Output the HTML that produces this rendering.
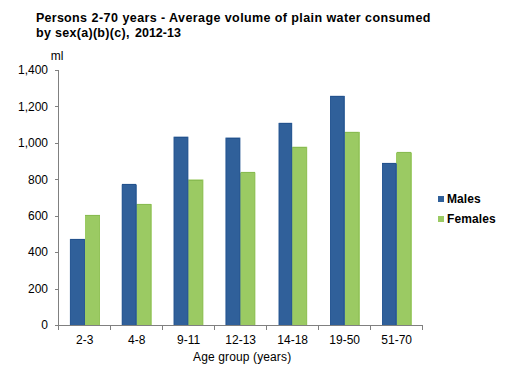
<!DOCTYPE html>
<html><head><meta charset="utf-8"><style>
html,body{margin:0;padding:0;background:#fff;width:508px;height:377px;overflow:hidden;position:relative}
body{font-family:"Liberation Sans",sans-serif;color:#000}
svg{position:absolute;left:0;top:0}
.t{position:absolute;font-weight:bold;font-size:12.5px;line-height:15px;white-space:pre}
.yl{position:absolute;right:460px;font-size:12px;line-height:14px;white-space:pre}
.xl{position:absolute;top:333px;width:60px;text-align:center;font-size:12px;line-height:14px;white-space:pre}
.ax{position:absolute;left:193px;top:350px;font-size:12px;line-height:14px;white-space:pre;letter-spacing:0.13px}
.ml{position:absolute;left:50.7px;top:49px;font-size:12px;line-height:14px}
.lg{position:absolute;left:447px;font-size:12px;font-weight:bold;line-height:14px;letter-spacing:0.1px}
</style></head><body>
<svg width="508" height="377"><rect x="85.00" y="215.20" width="15.00" height="109.80" fill="#9bca63"/><rect x="85.00" y="214.00" width="15.00" height="1.00" fill="#9bca63" fill-opacity="0.10"/><rect x="85.00" y="215.00" width="15.00" height="1.00" fill="#88bb51"/><rect x="99.00" y="216.00" width="1.00" height="109.00" fill="#93c35a"/><rect x="69.90" y="239.00" width="15.10" height="86.00" fill="#30609a"/><rect x="70.00" y="238.00" width="15.00" height="1.00" fill="#30609a" fill-opacity="0.10"/><rect x="70.00" y="239.00" width="15.00" height="1.00" fill="#23528d"/><rect x="70.00" y="239.00" width="1.00" height="86.00" fill="#2a5994"/><rect x="84.00" y="239.00" width="1.00" height="86.00" fill="#2a5994"/><rect x="136.00" y="204.10" width="15.80" height="120.90" fill="#9bca63"/><rect x="137.00" y="203.00" width="14.00" height="1.00" fill="#9bca63" fill-opacity="0.10"/><rect x="137.00" y="204.00" width="14.00" height="1.00" fill="#88bb51"/><rect x="150.00" y="205.00" width="1.00" height="120.00" fill="#93c35a"/><rect x="121.70" y="184.50" width="15.10" height="140.50" fill="#30609a"/><rect x="122.00" y="183.00" width="14.00" height="1.00" fill="#30609a" fill-opacity="0.10"/><rect x="122.00" y="184.00" width="14.00" height="1.00" fill="#23528d"/><rect x="122.00" y="185.00" width="1.00" height="140.00" fill="#2a5994"/><rect x="135.00" y="185.00" width="1.00" height="140.00" fill="#2a5994"/><rect x="188.00" y="179.50" width="15.40" height="145.50" fill="#9bca63"/><rect x="189.00" y="179.00" width="14.00" height="1.00" fill="#9bca63" fill-opacity="0.10"/><rect x="189.00" y="180.00" width="14.00" height="1.00" fill="#88bb51"/><rect x="202.00" y="180.00" width="1.00" height="145.00" fill="#93c35a"/><rect x="173.50" y="136.70" width="14.90" height="188.30" fill="#30609a"/><rect x="174.00" y="136.00" width="14.00" height="1.00" fill="#30609a" fill-opacity="0.10"/><rect x="174.00" y="137.00" width="14.00" height="1.00" fill="#23528d"/><rect x="174.00" y="137.00" width="1.00" height="188.00" fill="#2a5994"/><rect x="187.00" y="137.00" width="1.00" height="188.00" fill="#2a5994"/><rect x="240.00" y="172.50" width="15.40" height="152.50" fill="#9bca63"/><rect x="241.00" y="171.00" width="14.00" height="1.00" fill="#9bca63" fill-opacity="0.10"/><rect x="241.00" y="172.00" width="14.00" height="1.00" fill="#88bb51"/><rect x="254.00" y="173.00" width="1.00" height="152.00" fill="#93c35a"/><rect x="225.40" y="137.60" width="15.00" height="187.40" fill="#30609a"/><rect x="226.00" y="137.00" width="14.00" height="1.00" fill="#30609a" fill-opacity="0.10"/><rect x="226.00" y="138.00" width="14.00" height="1.00" fill="#23528d"/><rect x="226.00" y="138.00" width="1.00" height="187.00" fill="#2a5994"/><rect x="239.00" y="138.00" width="1.00" height="187.00" fill="#2a5994"/><rect x="292.00" y="146.80" width="15.20" height="178.20" fill="#9bca63"/><rect x="293.00" y="146.00" width="14.00" height="1.00" fill="#9bca63" fill-opacity="0.10"/><rect x="293.00" y="147.00" width="14.00" height="1.00" fill="#88bb51"/><rect x="306.00" y="147.00" width="1.00" height="178.00" fill="#93c35a"/><rect x="278.50" y="122.90" width="13.70" height="202.10" fill="#30609a"/><rect x="279.00" y="122.00" width="13.00" height="1.00" fill="#30609a" fill-opacity="0.10"/><rect x="279.00" y="123.00" width="13.00" height="1.00" fill="#23528d"/><rect x="279.00" y="123.00" width="1.00" height="202.00" fill="#2a5994"/><rect x="291.00" y="123.00" width="1.00" height="202.00" fill="#2a5994"/><rect x="344.00" y="131.90" width="15.90" height="193.10" fill="#9bca63"/><rect x="345.00" y="131.00" width="14.00" height="1.00" fill="#9bca63" fill-opacity="0.10"/><rect x="345.00" y="132.00" width="14.00" height="1.00" fill="#88bb51"/><rect x="358.00" y="132.00" width="1.00" height="193.00" fill="#93c35a"/><rect x="330.00" y="95.90" width="14.90" height="229.10" fill="#30609a"/><rect x="330.00" y="95.00" width="14.00" height="1.00" fill="#30609a" fill-opacity="0.10"/><rect x="330.00" y="96.00" width="14.00" height="1.00" fill="#23528d"/><rect x="330.00" y="96.00" width="1.00" height="229.00" fill="#2a5994"/><rect x="343.00" y="96.00" width="1.00" height="229.00" fill="#2a5994"/><rect x="396.00" y="152.50" width="15.90" height="172.50" fill="#9bca63"/><rect x="397.00" y="151.00" width="14.00" height="1.00" fill="#9bca63" fill-opacity="0.10"/><rect x="397.00" y="152.00" width="14.00" height="1.00" fill="#88bb51"/><rect x="410.00" y="153.00" width="1.00" height="172.00" fill="#93c35a"/><rect x="382.00" y="163.40" width="14.90" height="161.60" fill="#30609a"/><rect x="382.00" y="162.00" width="14.00" height="1.00" fill="#30609a" fill-opacity="0.10"/><rect x="382.00" y="163.00" width="14.00" height="1.00" fill="#23528d"/><rect x="382.00" y="164.00" width="1.00" height="161.00" fill="#2a5994"/><rect x="395.00" y="164.00" width="1.00" height="161.00" fill="#2a5994"/><rect x="58" y="70" width="1" height="260" fill="#808080"/><rect x="55" y="325" width="368" height="1" fill="#808080"/><rect x="55" y="325" width="3" height="1" fill="#808080"/><rect x="55" y="289" width="3" height="1" fill="#808080"/><rect x="55" y="252" width="3" height="1" fill="#808080"/><rect x="55" y="216" width="3" height="1" fill="#808080"/><rect x="55" y="179" width="3" height="1" fill="#808080"/><rect x="55" y="143" width="3" height="1" fill="#808080"/><rect x="55" y="106" width="3" height="1" fill="#808080"/><rect x="55" y="70" width="3" height="1" fill="#808080"/><rect x="58" y="325" width="1" height="5" fill="#808080"/><rect x="110" y="325" width="1" height="5" fill="#808080"/><rect x="162" y="325" width="1" height="5" fill="#808080"/><rect x="214" y="325" width="1" height="5" fill="#808080"/><rect x="266" y="325" width="1" height="5" fill="#808080"/><rect x="318" y="325" width="1" height="5" fill="#808080"/><rect x="370" y="325" width="1" height="5" fill="#808080"/><rect x="422" y="325" width="1" height="5" fill="#808080"/><rect x="438" y="196" width="6" height="6" fill="#30609a"/><rect x="438" y="216" width="6" height="6" fill="#9bca63"/></svg>
<div class="t" style="left:36px;top:11px;letter-spacing:0.25px">Persons</div>
<div class="t" style="left:91.5px;top:11px;letter-spacing:0.5px">2-70</div>
<div class="t" style="left:122.5px;top:11px;letter-spacing:0.41px">years - Average volume of plain water consumed</div>
<div class="t" style="left:36px;top:26px;letter-spacing:0.3px">by sex(a)(b)(c),</div>
<div class="t" style="left:135px;top:26px;letter-spacing:0px">2012-13</div>
<div class="ml">ml</div>
<div class="yl" style="top:318.2px">0</div><div class="yl" style="top:281.8px">200</div><div class="yl" style="top:245.3px">400</div><div class="yl" style="top:208.9px">600</div><div class="yl" style="top:172.5px">800</div><div class="yl" style="top:136.1px">1,000</div><div class="yl" style="top:99.6px">1,200</div><div class="yl" style="top:63.2px">1,400</div><div class="xl" style="left:54.7px">2-3</div><div class="xl" style="left:106.7px">4-8</div><div class="xl" style="left:158.7px">9-11</div><div class="xl" style="left:210.7px">12-13</div><div class="xl" style="left:262.7px">14-18</div><div class="xl" style="left:314.7px">19-50</div><div class="xl" style="left:366.7px">51-70</div>
<div class="ax">Age group (years)</div>
<div class="lg" style="top:192px">Males</div>
<div class="lg" style="top:212px">Females</div>
</body></html>
